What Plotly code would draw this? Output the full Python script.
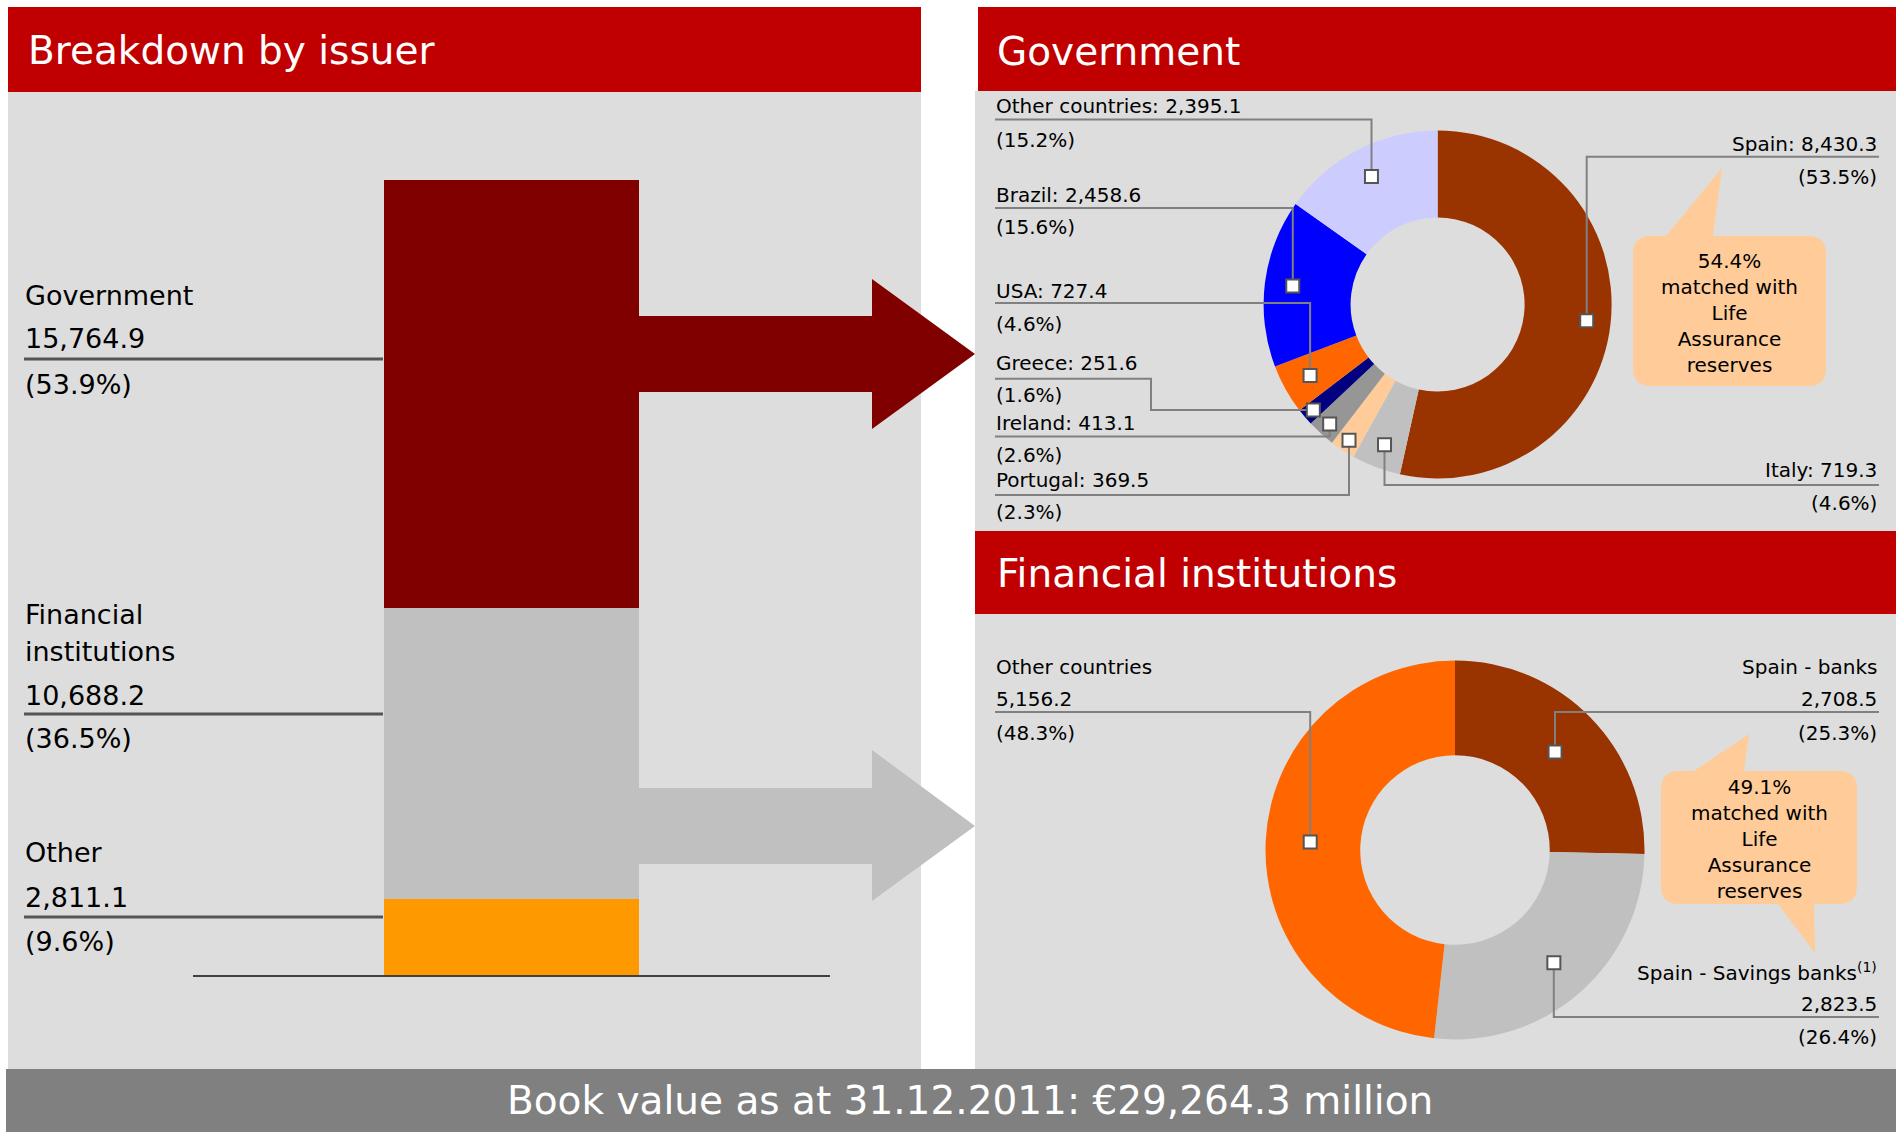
import math
import plotly.graph_objects as go

# Coordinates below are screen pixels; the page body margin is removed on load.
OX, OY = 0, 0
SW, SH = 1896, 1132
FW, FH = SW - OX, SH - OY
FONT = "DejaVu Sans"

# ---------------- data ----------------
issuer_names = ["Government", "Financial institutions", "Other"]
issuer_label_lines = [["Government"], ["Financial", "institutions"], ["Other"]]
issuer_values = [15764.9, 10688.2, 2811.1]
issuer_value_labels = ["15,764.9", "10,688.2", "2,811.1"]
issuer_pct_labels = ["(53.9%)", "(36.5%)", "(9.6%)"]

gov_countries = ["Spain", "Italy", "Portugal", "Ireland", "Greece", "USA", "Brazil", "Other countries"]
gov_values = [8430.3, 719.3, 369.5, 413.1, 251.6, 727.4, 2458.6, 2395.1]
gov_value_labels = ["8,430.3", "719.3", "369.5", "413.1", "251.6", "727.4", "2,458.6", "2,395.1"]
gov_pct_labels = ["(53.5%)", "(4.6%)", "(2.3%)", "(2.6%)", "(1.6%)", "(4.6%)", "(15.6%)", "(15.2%)"]

fin_segments = ["Spain - banks", "Spain - Savings banks<sup>(1)</sup>", "Other countries"]
fin_values = [2708.5, 2823.5, 5156.2]
fin_value_labels = ["2,708.5", "2,823.5", "5,156.2"]
fin_pct_labels = ["(25.3%)", "(26.4%)", "(48.3%)"]

gov_matched = "54.4%"
fin_matched = "49.1%"
date_label = "31.12.2011"
total_label = "€29,264.3 million"

# ---------------- styles ----------------
RED = "#c00000"
PANEL = "#dddddd"
FOOT = "#808080"
issuer_colors = ["#800000", "#c0c0c0", "#ff9900"]
gov_colors = ["#993300", "#c0c0c0", "#ffcc99", "#969696", "#000080", "#ff6600", "#0000ff", "#ccccff"]
fin_colors = ["#993300", "#c0c0c0", "#ff6600"]
PEACH = "#ffcc99"
LEAD = "#808080"

gov_c = (1437.6, 304.5, 174.0)
fin_c = (1455.0, 850.0, 189.5)

# side, name_y, line_y, pct_y, marker radius
gov_label_style = [
    ("right", 144, 156.7, 177, 150),
    ("right", 470, 485, 502.7, 150),
    ("left", 480, 495, 512, 162),
    ("left", 423, 436.6, 454.5, 161),
    ("left", 363, 378.8, 395, 163),
    ("left", 291, 303, 323.7, 146),
    ("left", 194.6, 208, 227, 146),
    ("left", 106, 119.5, 139.5, 144),
]
gov_elbow = {4: 1151}
# side, name_y, value_y, line_y, pct_y, marker radius
fin_label_style = [
    ("right", 667, 699, 712, 733, 140),
    ("right", 972, 1004, 1017, 1037, 150),
    ("left", 667, 699, 712, 733, 145),
]
LX, RX = 995, 1879

fig = go.Figure()

# dummy on full-canvas pixel axis
fig.add_trace(go.Scatter(x=[OX + 1], y=[OY + 1], mode="markers", marker=dict(opacity=0),
                         hoverinfo="skip", showlegend=False, xaxis="x", yaxis="y"))

# stacked bar
for name, val, col in reversed(list(zip(issuer_names, issuer_values, issuer_colors))):
    fig.add_trace(go.Bar(x=[0.5], y=[val], width=0.4, name=name,
                         marker=dict(color=col, line=dict(width=0)),
                         xaxis="x2", yaxis="y2", hoverinfo="skip", showlegend=False))


def px_x(x):
    return (x - OX) / FW


def px_y(y):
    return 1 - (y - OY) / FH


def dom(c):
    cx, cy, r = c
    return dict(x=[px_x(cx - r), px_x(cx + r)], y=[px_y(cy + r), px_y(cy - r)])


fig.add_trace(go.Pie(values=gov_values, labels=gov_countries, sort=False, direction="clockwise",
                     rotation=0, hole=0.5, textinfo="none", hoverinfo="skip", showlegend=False,
                     marker=dict(colors=gov_colors, line=dict(width=0)), domain=dom(gov_c)))
fig.add_trace(go.Pie(values=fin_values, labels=fin_segments, sort=False, direction="clockwise",
                     rotation=0, hole=0.5, textinfo="none", hoverinfo="skip", showlegend=False,
                     marker=dict(colors=fin_colors, line=dict(width=0)), domain=dom(fin_c)))

shapes = []
ann = []


def rect(x0, y0, x1, y1, color, layer="below", line=None):
    shapes.append(dict(type="rect", xref="x", yref="y", x0=x0, y0=y0, x1=x1, y1=y1,
                       fillcolor=color, line=line or dict(width=0), layer=layer))


def path(d, fill=None, color=LEAD, width=2, layer="above"):
    s = dict(type="path", xref="x", yref="y", path=d, layer=layer,
             line=dict(color=color, width=width) if width else dict(width=0))
    if fill:
        s["fillcolor"] = fill
    shapes.append(s)


def poly(pts, close=True):
    d = "M " + " L ".join(f"{x:.1f},{y:.1f}" for x, y in pts)
    return d + (" Z" if close else "")


def text(x, y, s, size, anchor="left", color="#000000"):
    ann.append(dict(x=x, y=y, xref="x", yref="y", text=s, showarrow=False, xanchor=anchor,
                    yanchor="middle", borderpad=0, align="center" if anchor == "center" else anchor,
                    font=dict(family=FONT, size=size, color=color)))


# panels
rect(8, 92, 921, 1069, PANEL)
rect(8, 7, 921, 92, RED)
rect(975, 91, SW, 531, PANEL)
rect(978, 7, SW, 91, RED)
rect(975, 614, SW, 1069, PANEL)
rect(975, 531, SW, 614, RED)
rect(6, 1069, SW, SH, FOOT)

text(27, 50, "Breakdown by issuer", 39, color="white")
text(996, 51, "Government", 39, color="white")
text(996, 573, "Financial institutions", 39, color="white")
text(970, 1100, f"Book value as at {date_label}: {total_label}", 39, anchor="center", color="white")

# arrows
path(poly([(637, 316), (872, 316), (872, 279), (975, 354), (872, 429), (872, 392), (637, 392)]),
     fill=issuer_colors[0], width=0, layer="below")
path(poly([(637, 788), (872, 788), (872, 750), (975, 826), (872, 901), (872, 864), (637, 864)]),
     fill=issuer_colors[1], width=0, layer="below")

# left labels
issuer_text_y = [([295], 338, 359, 384), ([614.7, 651], 695.7, 714, 738.8), ([852], 897.5, 917, 941)]
for i, (names_y, vy, ly, py) in enumerate(issuer_text_y):
    for ln, ny in zip(issuer_label_lines[i], names_y):
        text(24, ny, ln, 27)
    text(24, vy, issuer_value_labels[i], 27)
    text(24, py, issuer_pct_labels[i], 27)
    path(poly([(24, ly), (383, ly)], close=False), color="#555555", width=3, layer="above")


def mids(values, c, radii):
    cx, cy, _ = c
    tot = sum(values)
    cum = 0
    out = []
    for v, r in zip(values, radii):
        th = 2 * math.pi * (cum + v / 2) / tot
        out.append((cx + r * math.sin(th), cy - r * math.cos(th)))
        cum += v
    return out


markers = []
gm = mids(gov_values, gov_c, [s[4] for s in gov_label_style])
for i, (side, ny, ly, py, _) in enumerate(gov_label_style):
    mx, my = gm[i]
    lbl = f"{gov_countries[i]}: {gov_value_labels[i]}"
    if side == "right":
        text(1878, ny, lbl, 20, anchor="right")
        text(1878, py, gov_pct_labels[i], 20, anchor="right")
        path(poly([(RX, ly), (mx, ly), (mx, my)], close=False))
    else:
        text(LX, ny, lbl, 20)
        text(LX, py, gov_pct_labels[i], 20)
        if i in gov_elbow:
            ex = gov_elbow[i]
            path(poly([(LX, ly), (ex, ly), (ex, my), (mx, my)], close=False))
        else:
            path(poly([(LX, ly), (mx, ly), (mx, my)], close=False))
    markers.append((mx, my))

fm = mids(fin_values, fin_c, [s[5] for s in fin_label_style])
for i, (side, ny, vy, ly, py, _) in enumerate(fin_label_style):
    mx, my = fm[i]
    if side == "right":
        text(1878, ny, fin_segments[i], 20, anchor="right")
        text(1878, vy, fin_value_labels[i], 20, anchor="right")
        text(1878, py, fin_pct_labels[i], 20, anchor="right")
        path(poly([(RX, ly), (mx, ly), (mx, my)], close=False))
    else:
        text(LX, ny, fin_segments[i], 20)
        text(LX, vy, fin_value_labels[i], 20)
        text(LX, py, fin_pct_labels[i], 20)
        path(poly([(LX, ly), (mx, ly), (mx, my)], close=False))
    markers.append((mx, my))

for mx, my in markers:
    rect(mx - 6.5, my - 6.5, mx + 6.5, my + 6.5, "white", layer="above",
         line=dict(color="#555555", width=2))


def callout(x0, y0, x1, y1, r, top=None, bot=None):
    d = f"M {x0 + r},{y0}"
    if top:
        a, b, tx, ty = top
        d += f" L {a},{y0} L {tx},{ty} L {b},{y0}"
    d += f" L {x1 - r},{y0} Q {x1},{y0} {x1},{y0 + r} L {x1},{y1 - r} Q {x1},{y1} {x1 - r},{y1}"
    if bot:
        a, b, tx, ty = bot
        d += f" L {b},{y1} L {tx},{ty} L {a},{y1}"
    d += f" L {x0 + r},{y1} Q {x0},{y1} {x0},{y1 - r} L {x0},{y0 + r} Q {x0},{y0} {x0 + r},{y0} Z"
    return d


path(callout(1633, 236, 1826, 386, 18, top=(1666, 1713, 1722, 168)), fill=PEACH, width=0)
path(callout(1661, 771, 1857, 904, 18, top=(1694, 1744, 1749, 734), bot=(1778, 1814, 1815, 953)),
     fill=PEACH, width=0)
text(1729.5, 313, f"{gov_matched}<br>matched with<br>Life<br>Assurance<br>reserves", 20, anchor="center")
text(1759, 838.5, f"{fin_matched}<br>matched with<br>Life<br>Assurance<br>reserves", 20, anchor="center")

fig.update_layout(
    width=FW, height=FH, margin=dict(l=0, r=0, t=0, b=0),
    paper_bgcolor="white", plot_bgcolor="rgba(0,0,0,0)",
    barmode="stack", bargap=0, showlegend=False,
    shapes=shapes, annotations=ann,
    xaxis=dict(domain=[0, 1], range=[OX, OX + FW], visible=False, fixedrange=True),
    yaxis=dict(domain=[0, 1], range=[OY + FH, OY], visible=False, fixedrange=True),
    xaxis2=dict(domain=[px_x(193), px_x(830)], range=[0, 1], anchor="y2", showline=True,
                linecolor="#404040", linewidth=1.5, showticklabels=False, showgrid=False,
                zeroline=False, ticks="", fixedrange=True),
    yaxis2=dict(domain=[px_y(975), px_y(180)], range=[0, sum(issuer_values)],
                anchor="x2", visible=False, fixedrange=True),
)

fig.write_html("out.html", config={"displayModeBar": False},
               post_script="document.body.style.margin='0';document.body.style.overflow='hidden';")
